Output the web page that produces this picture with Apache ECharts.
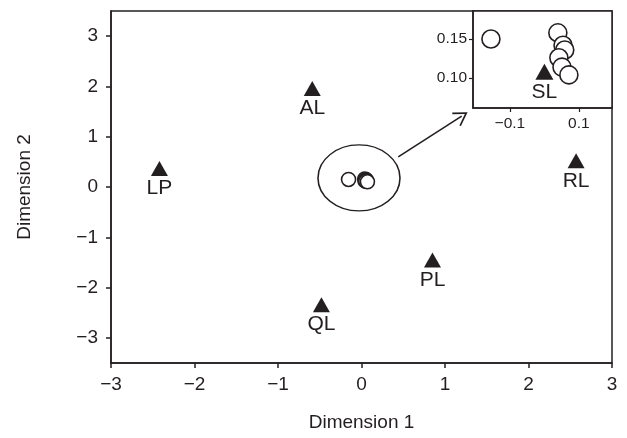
<!DOCTYPE html>
<html>
<head>
<meta charset="utf-8">
<script src="https://cdn.jsdelivr.net/npm/echarts@6/dist/echarts.min.js"></script>
<style>
  html, body { margin: 0; padding: 0; background: #fff; }
  #chart { width: 627px; height: 438px; }
</style>
</head>
<body>
<div id="chart"></div>
<script>
// landmark positions (triangles)
const landmarkNames = ['LP', 'AL', 'RL', 'PL', 'QL'];
const landmarkX = [-2.42, -0.59, 2.57, 0.85, -0.48];
const landmarkY = [0.37, 1.96, 0.52, -1.45, -2.34];

// points near the origin (open circles), also shown in the inset
const innerX = [-0.155, 0.039, 0.054, 0.059, 0.042, 0.051, 0.071];
const innerY = [0.150, 0.158, 0.142, 0.136, 0.126, 0.114, 0.104];

// SL landmark (only visible in the inset)
const slPoint = [0.0, 0.108];

// annotation: ellipse round the cluster and arrow to the inset
const ellipseCenter = [-0.03, 0.18];
const arrowFrom = [0.44, 0.60];
const arrowTo = [1.2, 1.41];

const mainTicks = [-3, -2, -1, 0, 1, 2, 3];
const insetXTicks = [-0.1, 0.1];
const insetYTicks = [0.10, 0.15];

const ink = '#231f20';
const font = 'Liberation Sans, Arial, sans-serif';
const minus = v => String(v).replace('-', '\u2212');

let chart = echarts.init(document.getElementById('chart'));

let labelStyle = {
    show: true,
    position: 'bottom',
    distance: 2,
    color: ink,
    fontSize: 21,
    fontFamily: font,
    formatter: p => p.name
};

let option = {
    animation: false,
    backgroundColor: '#fff',
    grid: [
        {left: 111, right: 15, top: 11, bottom: 75, show: true, borderColor: ink, borderWidth: 1.5},
        {left: 473, width: 139, top: 11, height: 97, show: true, borderColor: ink, borderWidth: 1.5,
            backgroundColor: '#fff', z: 5}
    ],
    xAxis: [{
        gridIndex: 0,
        type: 'value',
        min: -3, max: 3,
        name: 'Dimension 1',
        nameLocation: 'middle',
        nameGap: 50,
        nameTextStyle: {color: ink, fontSize: 19, fontFamily: font},
        axisLine: {show: true, onZero: false, lineStyle: {color: ink, width: 1.5}},
        axisTick: {show: true, length: 5, customValues: mainTicks, lineStyle: {color: ink, width: 1.5}},
        axisLabel: {color: ink, fontSize: 19, fontFamily: font, margin: 12, customValues: mainTicks, formatter: minus},
        splitLine: {show: false}
    }, {
        gridIndex: 1,
        type: 'value',
        min: -0.207, max: 0.196,
        axisLine: {show: true, onZero: false, lineStyle: {color: ink, width: 1.5}},
        axisTick: {show: true, length: 4, customValues: insetXTicks, lineStyle: {color: ink, width: 1.2}},
        axisLabel: {color: ink, fontSize: 15.5, fontFamily: font, margin: 8, customValues: insetXTicks, formatter: minus},
        splitLine: {show: false},
        z: 6
    }],
    yAxis: [{
        gridIndex: 0,
        type: 'value',
        min: -3.5, max: 3.5,
        name: 'Dimension 2',
        nameLocation: 'middle',
        nameGap: 77,
        nameTextStyle: {color: ink, fontSize: 19, fontFamily: font},
        axisLine: {show: true, onZero: false, lineStyle: {color: ink, width: 1.5}},
        axisTick: {show: true, length: 5, customValues: mainTicks, lineStyle: {color: ink, width: 1.5}},
        axisLabel: {color: ink, fontSize: 19, fontFamily: font, margin: 13, customValues: mainTicks, formatter: minus},
        splitLine: {show: false}
    }, {
        gridIndex: 1,
        type: 'value',
        min: 0.0615, max: 0.186,
        axisLine: {show: true, onZero: false, lineStyle: {color: ink, width: 1.5}},
        axisTick: {show: true, length: 4, customValues: insetYTicks, lineStyle: {color: ink, width: 1.2}},
        axisLabel: {color: ink, fontSize: 15.5, fontFamily: font, margin: 6, customValues: insetYTicks,
            formatter: v => v.toFixed(2)},
        splitLine: {show: false},
        z: 6
    }],
    series: [
        // landmarks
        {
            type: 'scatter',
            xAxisIndex: 0, yAxisIndex: 0,
            symbol: 'triangle',
            symbolSize: [17, 15],
            itemStyle: {color: ink, opacity: 1},
            label: labelStyle,
            data: landmarkNames.map((n, i) => ({name: n, value: [landmarkX[i], landmarkY[i]]}))
        },
        // cluster near origin
        {
            type: 'scatter',
            xAxisIndex: 0, yAxisIndex: 0,
            symbol: 'circle',
            symbolSize: 14,
            itemStyle: {color: '#fff', borderColor: ink, borderWidth: 1.6, opacity: 1},
            data: innerX.map((x, i) => [x, innerY[i]])
        },
        // ellipse + arrow annotation
        {
            type: 'scatter',
            xAxisIndex: 0, yAxisIndex: 0,
            symbol: 'path://M0,50 A50,40 0 1 1 100,50 A50,40 0 1 1 0,50 Z',
            symbolSize: [82, 66],
            itemStyle: {color: 'rgba(0,0,0,0)', borderColor: ink, borderWidth: 1.4, opacity: 1},
            silent: true,
            data: [ellipseCenter],
            markLine: {
                silent: true,
                symbol: ['none', 'path://M0,0 L10,16 L8.2,17.2 L0,4 L-8.2,17.2 L-10,16 Z'],
                symbolSize: [16, 14],
                label: {show: false},
                lineStyle: {color: ink, width: 1.6, type: 'solid'},
                data: [[{coord: arrowFrom}, {coord: arrowTo}]]
            }
        },
        // inset: SL
        {
            type: 'scatter',
            xAxisIndex: 1, yAxisIndex: 1,
            symbol: 'triangle',
            symbolSize: [18, 16],
            z: 7,
            itemStyle: {color: ink, opacity: 1},
            label: labelStyle,
            data: [{name: 'SL', value: slPoint}]
        },
        // inset: circles
        {
            type: 'scatter',
            xAxisIndex: 1, yAxisIndex: 1,
            symbol: 'circle',
            symbolSize: 18,
            z: 8,
            itemStyle: {color: '#fff', borderColor: ink, borderWidth: 1.6, opacity: 1},
            data: innerX.map((x, i) => [x, innerY[i]])
        }
    ]
};

chart.setOption(option);
</script>
</body>
</html>
